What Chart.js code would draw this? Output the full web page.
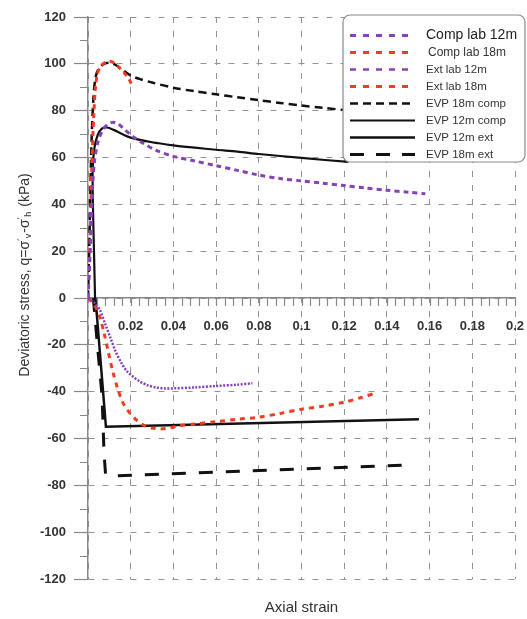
<!DOCTYPE html>
<html lang="en">
<head>
  <meta charset="utf-8">
  <title>Deviatoric stress vs axial strain</title>
  <script src="https://cdn.jsdelivr.net/npm/chart.js@4.4.1/dist/chart.umd.min.js"></script>
  <style>
    html, body { margin: 0; padding: 0; background: #fff; }
    .wrapper { width: 527px; height: 619px; }
  </style>
</head>
<body>
  <div class="wrapper"><canvas id="chart-0" width="527" height="619"></canvas></div>

  <script>
    // axial strain (x) and deviatoric stress q in kPa (y)
    const compLab12Strain = [0, 0.0008, 0.0015, 0.0022, 0.003, 0.0045, 0.0065, 0.009, 0.0115, 0.014, 0.017, 0.021, 0.026, 0.032, 0.04, 0.05, 0.06, 0.07, 0.08, 0.09, 0.1, 0.11, 0.12, 0.13, 0.14, 0.15, 0.158];
    const compLab12Q = [0, 15, 32, 48, 58, 66, 71, 74, 75, 74.5, 72, 69, 66, 63, 60.5, 58.5, 56.5, 54.5, 52.5, 51, 50, 49, 48, 47, 46, 45.2, 44.5];

    const compLab18Strain = [0, 0.001, 0.0015, 0.002, 0.0027, 0.0035, 0.0045, 0.006, 0.008, 0.0105, 0.012, 0.014, 0.016, 0.018, 0.0195, 0.021];
    const compLab18Q = [0, 25, 45, 62, 78, 90, 96, 99, 100.5, 101, 100.5, 99, 97, 95, 93, 90];

    const extLab12Strain = [0, 0.003, 0.0055, 0.008, 0.0105, 0.013, 0.0155, 0.018, 0.021, 0.024, 0.028, 0.032, 0.036, 0.04, 0.05, 0.06, 0.07, 0.077];
    const extLab12Q = [0, -2, -5, -11, -17, -23, -27.5, -31, -33.5, -35.5, -37.3, -38.2, -38.6, -38.6, -38.2, -37.6, -37, -36.4];

    const extLab18Strain = [0, 0.003, 0.0055, 0.0075, 0.0095, 0.0115, 0.014, 0.0165, 0.019, 0.022, 0.026, 0.03, 0.034, 0.038, 0.042, 0.05, 0.06, 0.07, 0.08, 0.09, 0.1, 0.11, 0.12, 0.128, 0.135];
    const extLab18Q = [0, -3, -8, -15, -23, -31, -39, -45, -48.5, -51.5, -54.3, -55.5, -55.9, -55.5, -54.7, -53.8, -52.8, -51.8, -50.9, -49.3, -47.5, -46.2, -44.5, -42.5, -40.5];

    const evp18CompStrain = [0, 0.0008, 0.0015, 0.0025, 0.0035, 0.005, 0.0075, 0.01, 0.013, 0.016, 0.02, 0.025, 0.03, 0.04, 0.05, 0.06, 0.07, 0.08, 0.09, 0.1, 0.11, 0.12, 0.135, 0.155];
    const evp18CompQ = [0, 30, 62, 85, 94, 98, 100, 100.5, 99.5, 97.5, 95, 93.3, 92, 89.8, 88.3, 87, 85.7, 84.5, 83.3, 82.2, 81.2, 80.3, 79, 77.5];

    const evp12CompStrain = [0.0033, 0.0028, 0.0023, 0.0022, 0.003, 0.0045, 0.0065, 0.009, 0.012, 0.016, 0.02, 0.03, 0.04, 0.05, 0.06, 0.07, 0.08, 0.1, 0.122];
    const evp12CompQ = [0, 20, 40, 55, 64, 69.5, 72.3, 72.8, 71.8, 70, 68.5, 66.5, 65.2, 64.2, 63.3, 62.5, 61.5, 59.8, 58.1];

    const evp12ExtStrain = [0.0035, 0.0084, 0.155];
    const evp12ExtQ = [0, -55, -51.8];

    const evp18ExtStrain = [0.0025, 0.0045, 0.0066, 0.0075, 0.0082, 0.0105, 0.149];
    const evp18ExtQ = [0, -21, -42, -66, -75, -76, -71.3];

    const yTitleParts = [
      ['Deviatoric stress, q=\u03c3', 'n'], ['\u2032', 'sup'], ['v', 'sub'],
      ['-\u03c3', 'n'], ['\u2032', 'sup'], ['h', 'sub'], [' (kPa)', 'n']
    ];

    const purple = '#8543b5';
    const red = '#ef3d22';
    const black = '#111111';

    function toPoints(xs, ys) {
      return xs.map(function(x, i) { return {x: x, y: ys[i]}; });
    }

    let data = {
      datasets: [
        {label: 'Comp lab 12m', data: toPoints(compLab12Strain, compLab12Q), borderColor: purple, borderWidth: 3, borderDash: [5, 4], tension: 0.3, legendDash: [6, 7], legendFont: 14},
        {label: 'Comp lab 18m', data: toPoints(compLab18Strain, compLab18Q), borderColor: red, borderWidth: 3, borderDash: [5, 4], tension: 0.3, legendDash: [6, 7], legendFont: 12},
        {label: 'Ext lab 12m', data: toPoints(extLab12Strain, extLab12Q), borderColor: purple, borderWidth: 2.5, borderDash: [2, 1.5], tension: 0.3, legendDash: [6, 7], legendFont: 11.5},
        {label: 'Ext lab 18m', data: toPoints(extLab18Strain, extLab18Q), borderColor: red, borderWidth: 3, borderDash: [5, 5], tension: 0.3, legendDash: [6, 7], legendFont: 11.5},
        {label: 'EVP 18m comp', data: toPoints(evp18CompStrain, evp18CompQ), borderColor: black, borderWidth: 2.5, borderDash: [8, 5], tension: 0.3, legendDash: [8, 5], legendFont: 11.5},
        {label: 'EVP 12m comp', data: toPoints(evp12CompStrain, evp12CompQ), borderColor: black, borderWidth: 2.2, borderDash: [], tension: 0.3, legendDash: [], legendFont: 11.5},
        {label: 'EVP 12m ext', data: toPoints(evp12ExtStrain, evp12ExtQ), borderColor: black, borderWidth: 2.5, borderDash: [], tension: 0, legendDash: [], legendFont: 11.5},
        {label: 'EVP 18m ext', data: toPoints(evp18ExtStrain, evp18ExtQ), borderColor: black, borderWidth: 3, borderDash: [14, 13], tension: 0, legendDash: [14, 12], legendFont: 11.5}
      ]
    };

    // minor ticks, y title and the boxed legend
    const extras = {
      id: 'extras',
      afterDatasetsDraw(chart) {
        const ctx = chart.ctx;
        const xs = chart.scales.x, ys = chart.scales.y;
        const y0 = ys.getPixelForValue(0);
        ctx.save();
        ctx.strokeStyle = '#888';
        ctx.lineWidth = 1.2;
        ctx.beginPath();
        for (let k = 1; k <= 50; k++) {
          const px = Math.round(xs.getPixelForValue(k * 0.004)) + 0.5;
          ctx.moveTo(px, y0);
          ctx.lineTo(px, y0 + 8);
        }
        for (let v = -110; v <= 110; v += 20) {
          const py = Math.round(ys.getPixelForValue(v)) + 0.5;
          ctx.moveTo(xs.left - 8, py);
          ctx.lineTo(xs.left, py);
        }
        ctx.stroke();
        ctx.restore();
      },
      afterDraw(chart) {
        const ctx = chart.ctx;
        // y axis title with sub/superscripts
        ctx.save();
        ctx.translate(25, 275);
        ctx.rotate(-Math.PI / 2);
        ctx.fillStyle = '#333';
        ctx.textBaseline = 'middle';
        const fontFor = function(kind) {
          return (kind === 'n' ? 14 : 9) + 'px "Liberation Sans", Arial, sans-serif';
        };
        let total = 0;
        yTitleParts.forEach(function(p) { ctx.font = fontFor(p[1]); total += ctx.measureText(p[0]).width + (p[1] === 'n' ? 0 : 1); });
        let cx = -total / 2;
        yTitleParts.forEach(function(p) {
          ctx.font = fontFor(p[1]);
          const dy = p[1] === 'sup' ? -4 : (p[1] === 'sub' ? 4 : 0);
          ctx.fillText(p[0], cx, dy);
          cx += ctx.measureText(p[0]).width + (p[1] === 'n' ? 0 : 1);
        });
        ctx.restore();

        // legend
        const bx = 343, by = 15, bw = 182, bh = 147;
        ctx.save();
        ctx.beginPath();
        ctx.roundRect(bx, by, bw, bh, 7);
        ctx.fillStyle = '#fff';
        ctx.fill();
        ctx.strokeStyle = '#8a8a8a';
        ctx.lineWidth = 1.2;
        ctx.stroke();
        chart.data.datasets.forEach(function(ds, i) {
          const ry = 35.5 + i * 17;
          ctx.beginPath();
          ctx.setLineDash(ds.legendDash);
          ctx.strokeStyle = ds.borderColor;
          ctx.lineWidth = ds.borderWidth;
          ctx.moveTo(350, ry);
          ctx.lineTo(415, ry);
          ctx.stroke();
          ctx.setLineDash([]);
          ctx.fillStyle = i === 0 ? '#222' : '#333';
          ctx.font = ds.legendFont + 'px "Liberation Sans", Arial, sans-serif';
          ctx.textBaseline = 'middle';
          ctx.fillText(ds.label, i === 1 ? 428 : 426, ry);
        });
        ctx.restore();
      }
    };

    let options = {
      responsive: false,
      animation: false,
      showLine: true,
      layout: {padding: {top: 17, right: 12, left: 0, bottom: 0}},
      elements: {point: {radius: 0}, line: {fill: false}},
      scales: {
        x: {
          type: 'linear',
          min: 0,
          max: 0.2,
          position: {y: 0},
          afterFit: function(scale) { scale.paddingLeft = 0; scale.paddingRight = 0; },
          grid: {color: '#939393', lineWidth: 1, drawTicks: false},
          border: {display: true, color: '#888', width: 1.5, dash: [6, 8]},
          ticks: {
            stepSize: 0.02,
            autoSkip: false,
            maxRotation: 0,
            padding: 21,
            color: '#333',
            font: {family: '"Liberation Sans", Arial, sans-serif', size: 13, weight: 'bold'},
            callback: function(v) { return v === 0 ? '' : String(+v.toFixed(2)); }
          }
        },
        y: {
          type: 'linear',
          min: -120,
          max: 120,
          afterFit: function(scale) { scale.width = 88; scale.paddingTop = 0; scale.paddingBottom = 0; },
          grid: {color: '#939393', lineWidth: 1, drawTicks: true, tickLength: 14, tickColor: '#888', tickWidth: 1.2, tickBorderDash: []},
          border: {display: true, color: '#888', width: 1.5, dash: [6, 8]},
          ticks: {
            stepSize: 20,
            padding: 8,
            color: '#333',
            font: {family: '"Liberation Sans", Arial, sans-serif', size: 13, weight: 'bold'}
          }
        }
      },
      plugins: {
        legend: {display: false},
        tooltip: {enabled: false},
        title: {
          display: true,
          position: 'bottom',
          fullSize: false,
          text: 'Axial strain',
          color: '#333',
          font: {family: '"Liberation Sans", Arial, sans-serif', size: 15, weight: 'normal'},
          padding: {top: 20, bottom: 2}
        }
      }
    };

    let chart = new Chart('chart-0', {
      type: 'scatter',
      data: data,
      options: options,
      plugins: [extras]
    });
  </script>
</body>
</html>
